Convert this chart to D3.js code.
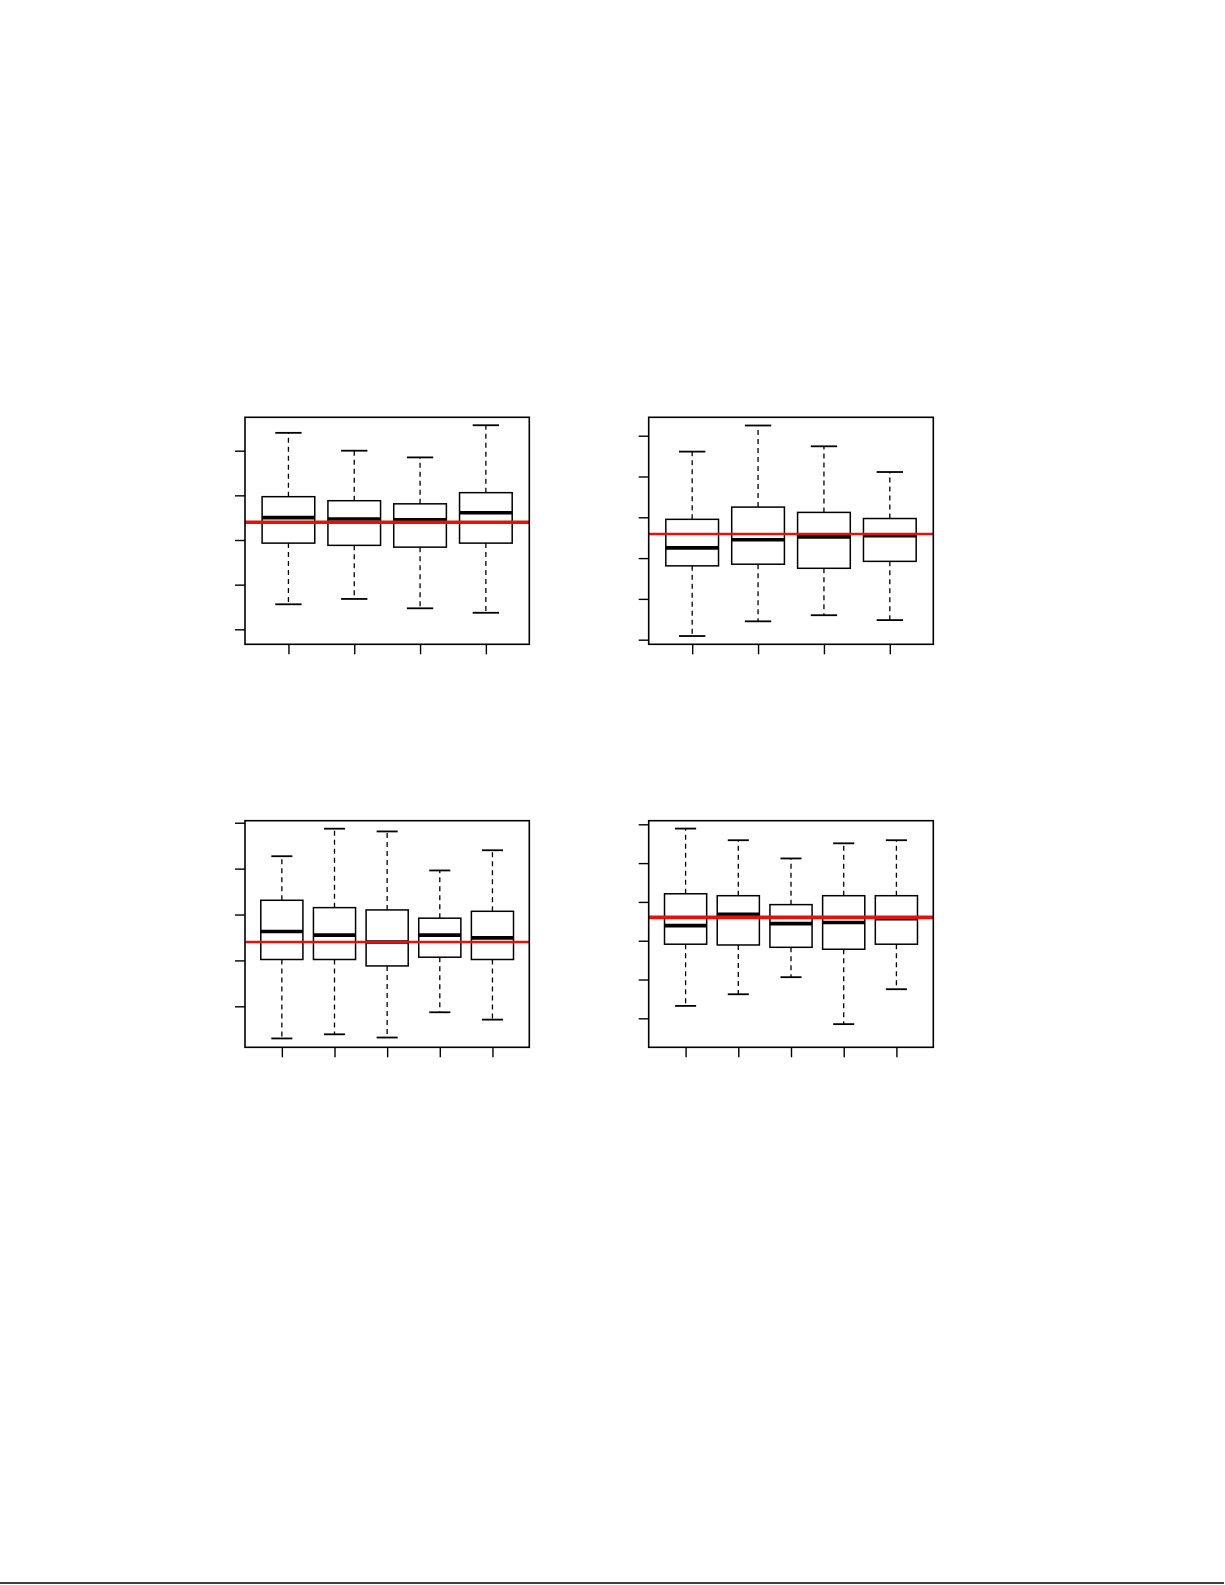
<!DOCTYPE html>
<html>
<head>
<meta charset="utf-8">
<script src="https://cdn.jsdelivr.net/npm/d3@7"></script>
<style>
  html, body { margin: 0; padding: 0; background: #fff; }
  svg { display: block; }
</style>
</head>
<body>
<script>
// ---------- data (in axis units) ----------
// Panel 1 (top-left), 4 groups
const p1Categories = [1, 2, 3, 4];
const p1Low   = [0.56, 0.68, 0.47, 0.37];
const p1Q1    = [1.93, 1.88, 1.84, 1.93];
const p1Med   = [2.50, 2.47, 2.45, 2.61];
const p1Q3    = [2.97, 2.88, 2.81, 3.06];
const p1High  = [4.40, 4.00, 3.85, 4.57];
const p1Ref   = 2.40;
const p1Ticks = [0, 1, 2, 3, 4];
const p1YLim  = [-0.336, 4.748];

// Panel 2 (top-right), 4 groups
const p2Categories = [1, 2, 3, 4];
const p2Low   = [0.09, 0.45, 0.60, 0.48];
const p2Q1    = [1.81, 1.85, 1.75, 1.92];
const p2Med   = [2.25, 2.45, 2.52, 2.55];
const p2Q3    = [2.95, 3.25, 3.12, 2.97];
const p2High  = [4.61, 5.25, 4.74, 4.11];
const p2Ref   = 2.59;
const p2Ticks = [0, 1, 2, 3, 4, 5];
const p2YLim  = [-0.113, 5.451];

// Panel 3 (bottom-left), 5 groups
const p3Categories = [1, 2, 3, 4, 5];
const p3Low   = [-0.70, -0.61, -0.68, -0.13, -0.29];
const p3Q1    = [1.02, 1.02, 0.88, 1.07, 1.02];
const p3Med   = [1.63, 1.55, 1.40, 1.55, 1.49];
const p3Q3    = [2.31, 2.15, 2.10, 1.92, 2.07];
const p3High  = [3.27, 3.87, 3.81, 2.96, 3.40];
const p3Ref   = 1.40;
const p3Ticks = [0, 1, 2, 3, 4];
const p3YLim  = [-0.893, 4.044];

// Panel 4 (bottom-right), 5 groups
const p4Categories = [1, 2, 3, 4, 5];
const p4Low   = [0.32, 0.62, 1.06, -0.15, 0.75];
const p4Q1    = [1.91, 1.89, 1.83, 1.78, 1.91];
const p4Med   = [2.39, 2.68, 2.44, 2.47, 2.57];
const p4Q3    = [3.21, 3.16, 2.93, 3.16, 3.16];
const p4High  = [4.89, 4.59, 4.12, 4.51, 4.59];
const p4Ref   = 2.60;
const p4Ticks = [0, 1, 2, 3, 4, 5];
const p4YLim  = [-0.747, 5.093];

// ---------- layout ----------
const W = 1225, H = 1585;
const svg = d3.select("body").append("svg").attr("width", W).attr("height", H);

const panels = [
  { cats: p1Categories, low: p1Low, q1: p1Q1, med: p1Med, q3: p1Q3, high: p1High, ref: p1Ref, ticks: p1Ticks, ylim: p1YLim,
    box: { l: 245, r: 529.3, t: 417.3, b: 644.3 }, refW: 3.5 },
  { cats: p2Categories, low: p2Low, q1: p2Q1, med: p2Med, q3: p2Q3, high: p2High, ref: p2Ref, ticks: p2Ticks, ylim: p2YLim,
    box: { l: 648.7, r: 933.3, t: 417.3, b: 644.3 }, refW: 2.4 },
  { cats: p3Categories, low: p3Low, q1: p3Q1, med: p3Med, q3: p3Q3, high: p3High, ref: p3Ref, ticks: p3Ticks, ylim: p3YLim,
    box: { l: 245, r: 529.3, t: 820.7, b: 1047.3 }, refW: 2.6 },
  { cats: p4Categories, low: p4Low, q1: p4Q1, med: p4Med, q3: p4Q3, high: p4High, ref: p4Ref, ticks: p4Ticks, ylim: p4YLim,
    box: { l: 648.7, r: 933.3, t: 820.7, b: 1047.3 }, refW: 3.8 }
];

panels.forEach(p => {
  const n = p.cats.length;
  const pad = 0.04 * n;
  const x = d3.scaleLinear().domain([0.5 - pad, n + 0.5 + pad]).range([p.box.l, p.box.r]);
  const y = d3.scaleLinear().domain(p.ylim).range([p.box.b, p.box.t]);
  const g = svg.append("g");
  const bw = 0.4, cw = 0.2;

  const rows = p.cats.map((c, i) => ({ c, low: p.low[i], q1: p.q1[i], med: p.med[i], q3: p.q3[i], high: p.high[i] }));

  // whiskers (dashed)
  g.selectAll(".wu").data(rows).join("line")
    .attr("x1", d => x(d.c)).attr("x2", d => x(d.c))
    .attr("y1", d => y(d.q3)).attr("y2", d => y(d.high))
    .attr("stroke", "#000").attr("stroke-width", 1.3).attr("stroke-dasharray", "5,4");
  g.selectAll(".wl").data(rows).join("line")
    .attr("x1", d => x(d.c)).attr("x2", d => x(d.c))
    .attr("y1", d => y(d.q1)).attr("y2", d => y(d.low))
    .attr("stroke", "#000").attr("stroke-width", 1.3).attr("stroke-dasharray", "5,4");
  // staples
  ["high", "low"].forEach(k => {
    g.selectAll(".s" + k).data(rows).join("line")
      .attr("x1", d => x(d.c - cw)).attr("x2", d => x(d.c + cw))
      .attr("y1", d => y(d[k])).attr("y2", d => y(d[k]))
      .attr("stroke", "#000").attr("stroke-width", 1.8);
  });
  // boxes
  g.selectAll(".bx").data(rows).join("rect")
    .attr("x", d => x(d.c - bw)).attr("width", d => x(d.c + bw) - x(d.c - bw))
    .attr("y", d => y(d.q3)).attr("height", d => y(d.q1) - y(d.q3))
    .attr("fill", "#fff").attr("stroke", "#000").attr("stroke-width", 1.5);
  // medians
  g.selectAll(".md").data(rows).join("line")
    .attr("x1", d => x(d.c - bw)).attr("x2", d => x(d.c + bw))
    .attr("y1", d => y(d.med)).attr("y2", d => y(d.med))
    .attr("stroke", "#000").attr("stroke-width", 3.6);

  // reference line
  g.append("line")
    .attr("x1", p.box.l).attr("x2", p.box.r)
    .attr("y1", y(p.ref)).attr("y2", y(p.ref))
    .attr("stroke", "#e3120b").attr("stroke-width", p.refW);

  // axes (ticks only, no labels)
  const ay = d3.axisLeft(y).tickValues(p.ticks).tickSize(10).tickFormat("");
  const ga = g.append("g").attr("transform", `translate(${p.box.l},0)`).call(ay);
  ga.select(".domain").remove();
  ga.selectAll(".tick line").attr("stroke", "#000").attr("stroke-width", 1.4);

  const ax = d3.axisBottom(x).tickValues(p.cats).tickSize(10).tickFormat("");
  const gb = g.append("g").attr("transform", `translate(0,${p.box.b})`).call(ax);
  gb.select(".domain").remove();
  gb.selectAll(".tick line").attr("stroke", "#000").attr("stroke-width", 1.4);

  // frame
  g.append("rect")
    .attr("x", p.box.l).attr("y", p.box.t)
    .attr("width", p.box.r - p.box.l).attr("height", p.box.b - p.box.t)
    .attr("fill", "none").attr("stroke", "#000").attr("stroke-width", 1.6);
});

// page bottom rule
svg.append("line")
  .attr("x1", 0).attr("x2", 1224).attr("y1", 1583).attr("y2", 1583)
  .attr("stroke", "#000").attr("stroke-width", 1.6);
</script>
</body>
</html>
